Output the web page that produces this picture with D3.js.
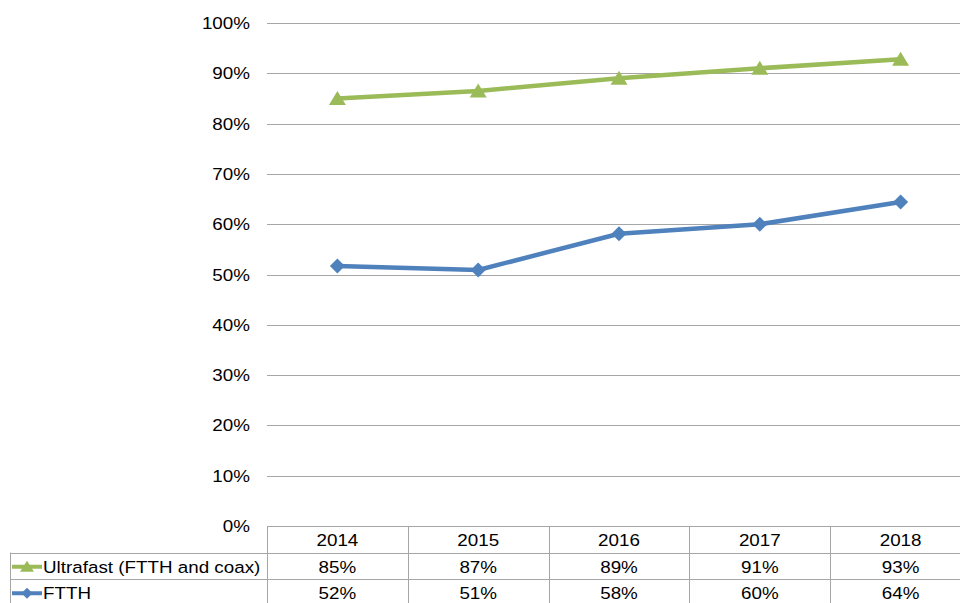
<!DOCTYPE html>
<html>
<head>
<meta charset="utf-8">
<script src="https://cdn.jsdelivr.net/npm/d3@7"></script>
<style>
  body { margin: 0; background: #fff; }
  text { font-family: "Liberation Sans", Arial, sans-serif; fill: #000; }
</style>
</head>
<body>
<div id="chart"></div>
<script>
// chart data
var years = ["2014", "2015", "2016", "2017", "2018"];
var ultrafast = [0.850, 0.865, 0.890, 0.910, 0.928];
var ftth = [0.517, 0.509, 0.581, 0.600, 0.644];
var ultrafastLabels = ["85%", "87%", "89%", "91%", "93%"];
var ftthLabels = ["52%", "51%", "58%", "60%", "64%"];
var yTicks = [0, 0.1, 0.2, 0.3, 0.4, 0.5, 0.6, 0.7, 0.8, 0.9, 1.0];

var series = [
  { name: "Ultrafast (FTTH and coax)", values: ultrafast, labels: ultrafastLabels, color: "#9BBB59", marker: "triangle" },
  { name: "FTTH", values: ftth, labels: ftthLabels, color: "#4F81BD", marker: "diamond" }
];

var width = 960, height = 603;
// note: "top" is taken by window.top, so prefix these
var plotLeft = 267, plotRight = 971, plotTop = 23, plotBottom = 526;
var rowH = 26.5;
var gridColor = "#a6a6a6";
var fontSize = 16.5, stretch = 1.14;

var svg = d3.select("#chart").append("svg")
    .attr("width", width)
    .attr("height", height);

var x = d3.scaleBand().domain(years).range([plotLeft, plotRight]).padding(0);
var y = d3.scaleLinear().domain([0, 1]).range([plotBottom, plotTop]);
var cx = function(d) { return x(d) + x.bandwidth() / 2; };

// text helper, the original font is a bit wider than it is tall
function label(g, tx, ty, str, anchor) {
  return g.append("text")
    .attr("transform", "translate(" + tx + "," + ty + ") scale(" + stretch + ",1)")
    .attr("text-anchor", anchor)
    .style("font-size", fontSize + "px")
    .text(str);
}

// gridlines
svg.append("g").selectAll("line")
  .data(yTicks)
  .enter().append("line")
  .attr("x1", plotLeft).attr("x2", width)
  .attr("y1", function(d) { return Math.round(y(d)) + 0.5; })
  .attr("y2", function(d) { return Math.round(y(d)) + 0.5; })
  .attr("stroke", gridColor)
  .attr("stroke-width", 1);

// y axis labels
var yl = svg.append("g");
yTicks.forEach(function(t) {
  label(yl, 250, y(t) + 6, d3.format(".0%")(t), "end");
});

// data table under the plot
var table = svg.append("g");
var rowTop = [plotBottom, plotBottom + rowH, plotBottom + 2 * rowH];
var tableBottom = plotBottom + 3 * rowH + 2;

// vertical lines
years.forEach(function(d) {
  table.append("line")
    .attr("x1", Math.round(x(d)) + 0.5).attr("x2", Math.round(x(d)) + 0.5)
    .attr("y1", plotBottom).attr("y2", tableBottom)
    .attr("stroke", gridColor);
});
table.append("line")
  .attr("x1", 10.5).attr("x2", 10.5)
  .attr("y1", rowTop[1]).attr("y2", tableBottom)
  .attr("stroke", gridColor);

// horizontal lines
[rowTop[1], rowTop[2]].forEach(function(ry) {
  table.append("line")
    .attr("x1", 10).attr("x2", width)
    .attr("y1", Math.round(ry) + 0.5).attr("y2", Math.round(ry) + 0.5)
    .attr("stroke", gridColor);
});

// header row
years.forEach(function(d) {
  label(table, cx(d), rowTop[0] + 20, d, "middle");
});

// marker shapes
function markerPath(type, size) {
  var h = size / 2;
  if (type === "triangle") {
    return "M0," + (-h) + "L" + (h + 1) + "," + (h - 1) + "L" + (-h - 1) + "," + (h - 1) + "Z";
  }
  return "M0," + (-h) + "L" + h + ",0L0," + h + "L" + (-h) + ",0Z";
}

// series rows with legend keys
series.forEach(function(s, i) {
  var ry = rowTop[i + 1];
  var ky = ry + rowH / 2 + 1;
  table.append("line")
    .attr("x1", 12).attr("x2", 42)
    .attr("y1", ky).attr("y2", ky)
    .attr("stroke", s.color)
    .attr("stroke-width", 4);
  table.append("path")
    .attr("d", markerPath(s.marker, s.marker === "triangle" ? 12 : 11))
    .attr("transform", "translate(27," + ky + ")")
    .attr("fill", s.color);
  label(table, 43, ry + 20, s.name, "start");
  years.forEach(function(d, j) {
    label(table, cx(d), ry + 20, s.labels[j], "middle");
  });
});

// lines and markers
var line = d3.line()
  .x(function(d, j) { return cx(years[j]); })
  .y(function(d) { return y(d); });

series.forEach(function(s) {
  svg.append("path")
    .datum(s.values)
    .attr("d", line)
    .attr("fill", "none")
    .attr("stroke", s.color)
    .attr("stroke-width", 4.5)
    .attr("stroke-linejoin", "round");

  svg.append("g").selectAll("path")
    .data(s.values)
    .enter().append("path")
    .attr("d", markerPath(s.marker, 15))
    .attr("transform", function(d, j) {
      return "translate(" + cx(years[j]) + "," + y(d) + ")";
    })
    .attr("fill", s.color);
});
</script>
</body>
</html>
